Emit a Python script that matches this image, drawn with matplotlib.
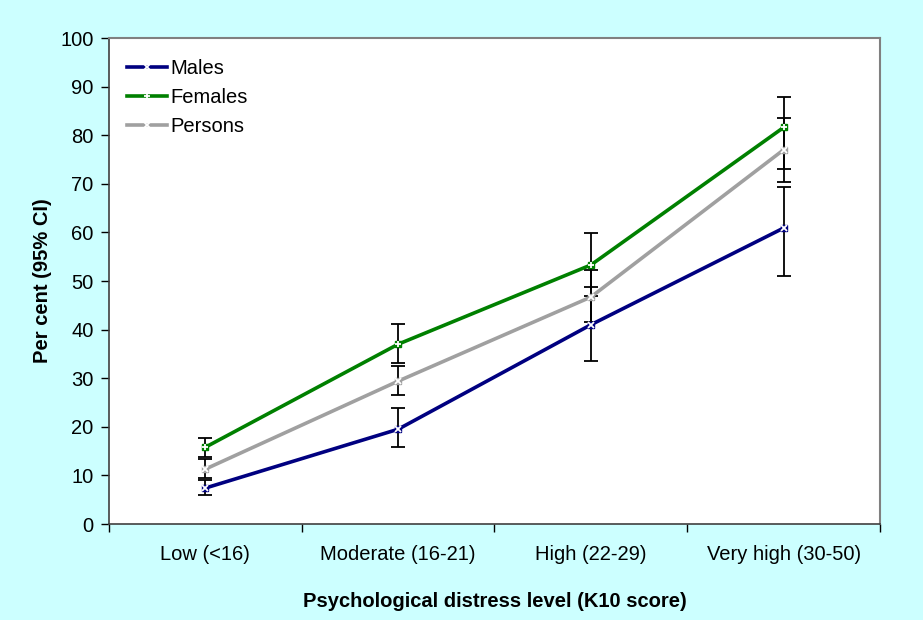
import numpy as np
import matplotlib.pyplot as plt

categories = ['Low (<16)', 'Moderate (16-21)', 'High (22-29)', 'Very high (30-50)']

males = [7.4, 19.5, 41.0, 60.9]
males_lo = [6.0, 15.8, 33.6, 51.0]
males_hi = [9.0, 23.9, 48.8, 69.3]

females = [15.8, 37.0, 53.3, 81.6]
females_lo = [13.8, 33.1, 47.0, 73.0]
females_hi = [17.8, 41.1, 59.9, 87.9]

persons = [11.3, 29.4, 46.7, 77.0]
persons_lo = [9.5, 26.5, 41.5, 70.4]
persons_hi = [13.3, 32.5, 52.3, 83.5]

plt.rcParams['font.family'] = ['Liberation Sans', 'DejaVu Sans']

fig = plt.figure(figsize=(9.23, 6.2), dpi=100, facecolor='#CCFFFF')
ax = fig.add_axes([0.1181, 0.1548, 0.8353, 0.7839])
ax.set_facecolor('white')

x = np.arange(len(categories))
series = [
    ('Males', males, males_lo, males_hi, '#000080'),
    ('Females', females, females_lo, females_hi, '#008000'),
    ('Persons', persons, persons_lo, persons_hi, '#A0A0A0'),
]

# error bars first so lines sit on top
for name, y, lo, hi, col in series:
    y = np.array(y)
    err = [y - np.array(lo), np.array(hi) - y]
    ax.errorbar(x, y, yerr=err, fmt='none', ecolor='black', elinewidth=1.3,
                capsize=5, capthick=1.3, zorder=2)

for name, y, lo, hi, col in series:
    ax.plot(x, y, color=col, lw=2.6, label=name, zorder=3)
    ax.plot(x, y, ls='none', marker='s', ms=5, color=col, zorder=4)
    ax.plot(x, y, ls='none', marker='+' if name == 'Females' else 'x',
            ms=5, mew=1.3, color='white', zorder=5)

ax.set_xlim(-0.5, 3.5)
ax.set_ylim(0, 100)
ax.set_yticks(np.arange(0, 101, 10))
ax.set_xticks(x)
ax.set_xticklabels(categories)
ax.set_xticks(np.arange(-0.5, 3.6, 1), minor=True)
ax.tick_params(axis='x', which='major', length=0, labelsize=14.5, pad=15)
ax.tick_params(axis='x', which='minor', length=6, width=1, direction='out')
ax.tick_params(axis='y', length=6, width=1, direction='out', labelsize=14.5, pad=5)

for s in ['top', 'right']:
    ax.spines[s].set_color('#808080')
    ax.spines[s].set_linewidth(1.5)
for s in ['left', 'bottom']:
    ax.spines[s].set_color('#404040')
    ax.spines[s].set_linewidth(1.2)

ax.set_ylabel('Per cent (95% CI)', fontsize=14.5, fontweight='bold', labelpad=6)
ax.set_xlabel('Psychological distress level (K10 score)', fontsize=14.5,
              fontweight='bold', labelpad=20)

h = []
for name, y, lo, hi, col in series:
    h.append(plt.Line2D([], [], color=col, lw=2.6, marker='+' if name == 'Females' else 'x',
                        ms=5, mew=1.3, mec='white', label=name))
ax.legend(handles=h, loc='upper left', bbox_to_anchor=(0.0, 0.995), frameon=False,
          fontsize=14.5, handlelength=2.0, handletextpad=0.15, labelspacing=0.5)

plt.savefig('out.png', dpi=100, facecolor=fig.get_facecolor())
